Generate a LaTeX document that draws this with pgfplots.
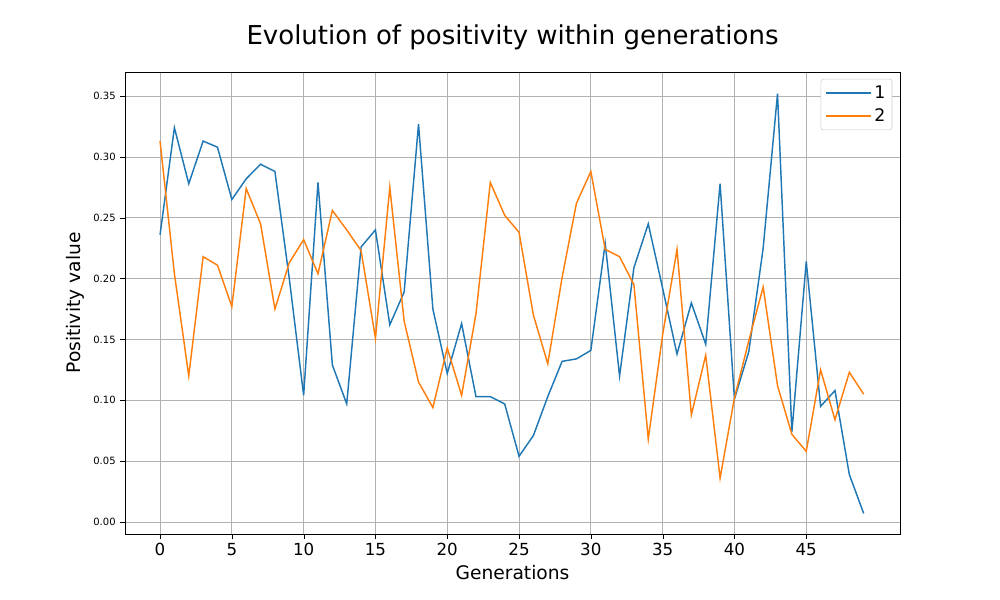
\documentclass[border=0pt]{standalone}
\usepackage{pgfplots}
\pgfplotsset{compat=1.18}
\usepackage{fontspec}
\setmainfont{DejaVu Sans}
\definecolor{c1}{HTML}{1F77B4}
\definecolor{c2}{HTML}{FF7F0E}
\begin{document}
\begin{tikzpicture}[x=1bp,y=1bp]
\path (0,0) rectangle (750,450);
\begin{axis}[at={(93.75bp,49.5bp)},anchor=south west,scale only axis,
 width=581.25bp,height=346.5bp,
 xmin=-2.44,xmax=51.53,ymin=-0.0099,ymax=0.3698,
 xtick={0,5,...,45},ytick={0,0.05,...,0.35},
 grid=major,grid style={gray!60,line width=0.6pt},
 /pgf/number format/assume math mode=true,
 x tick label style={font=\fontsize{12.5bp}{14bp}\selectfont},
 y tick label style={font=\fontsize{7.5bp}{9bp}\selectfont,/pgf/number format/.cd,fixed,fixed zerofill,precision=2},
 scaled y ticks=false,
 tick align=outside, major tick length=3.5bp, tick style={black},
 xtick pos=bottom, ytick pos=left,
 xlabel={Generations}, ylabel={Positivity value},
 label style={font=\fontsize{14bp}{16bp}\selectfont},
 title={Evolution of positivity within generations},
 title style={font=\fontsize{19.5bp}{22bp}\selectfont,yshift=7bp},
 legend style={at={(0.99,0.985)},anchor=north east,font=\fontsize{13bp}{15bp}\selectfont,draw=gray!40,rounded corners=2bp,inner sep=3bp,row sep=2bp},
 legend cell align=left,
 legend image code/.code={\draw[#1] (0cm,0cm) -- (1.2cm,0cm);},
]
\addplot[c1,line width=1.1pt] coordinates {(0,0.236)(1,0.324)(2,0.278)(3,0.313)(4,0.308)(5,0.265)(6,0.282)(7,0.294)(8,0.288)(9,0.200)(10,0.104)(11,0.279)(12,0.129)(13,0.097)(14,0.226)(15,0.240)(16,0.162)(17,0.189)(18,0.327)(19,0.175)(20,0.122)(21,0.163)(22,0.103)(23,0.103)(24,0.097)(25,0.054)(26,0.071)(27,0.103)(28,0.132)(29,0.134)(30,0.141)(31,0.229)(32,0.120)(33,0.209)(34,0.245)(35,0.192)(36,0.138)(37,0.180)(38,0.146)(39,0.278)(40,0.101)(41,0.140)(42,0.225)(43,0.352)(44,0.074)(45,0.214)(46,0.095)(47,0.108)(48,0.039)(49,0.007)};
\addlegendentry{1}
\addplot[c2,line width=1.1pt] coordinates {(0,0.313)(1,0.204)(2,0.120)(3,0.218)(4,0.211)(5,0.177)(6,0.274)(7,0.245)(8,0.175)(9,0.213)(10,0.232)(11,0.204)(12,0.256)(13,0.240)(14,0.223)(15,0.151)(16,0.275)(17,0.165)(18,0.115)(19,0.094)(20,0.143)(21,0.104)(22,0.171)(23,0.279)(24,0.252)(25,0.238)(26,0.170)(27,0.130)(28,0.201)(29,0.262)(30,0.288)(31,0.224)(32,0.218)(33,0.195)(34,0.068)(35,0.154)(36,0.224)(37,0.088)(38,0.137)(39,0.036)(40,0.102)(41,0.149)(42,0.193)(43,0.112)(44,0.072)(45,0.058)(46,0.125)(47,0.084)(48,0.123)(49,0.105)};
\addlegendentry{2}
\end{axis}
\end{tikzpicture}
\end{document}
